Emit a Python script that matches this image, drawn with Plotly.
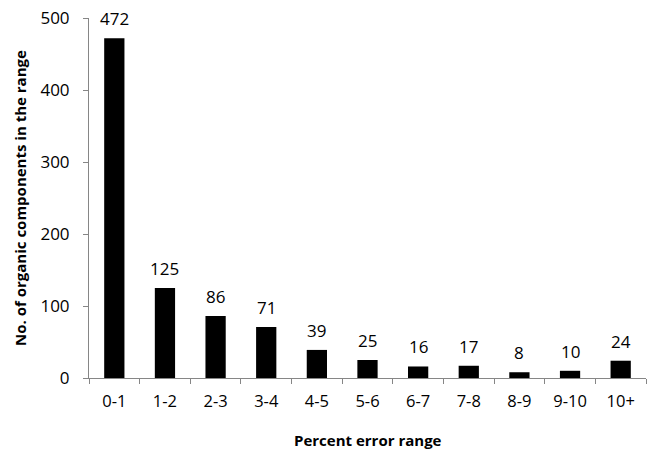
import plotly.graph_objects as go

categories = ["0-1", "1-2", "2-3", "3-4", "4-5", "5-6", "6-7", "7-8", "8-9", "9-10", "10+"]
counts = [472, 125, 86, 71, 39, 25, 16, 17, 8, 10, 24]
y_ticks = [0, 100, 200, 300, 400, 500]
x_title = "Percent error range"
y_title = "No. of organic components in the range"

font_family = "Open Sans, Liberation Sans, sans-serif"
axis_grey = "#868686"

fig = go.Figure(go.Bar(
    x=categories,
    y=counts,
    marker=dict(color="black", line=dict(width=0)),
    width=0.4,
    hoverinfo="x+y",
))

for c, v in zip(categories, counts):
    fig.add_annotation(
        x=c, y=v, text=str(v), showarrow=False,
        yanchor="bottom", yshift=6,
        font=dict(size=17, color="black", family=font_family),
    )

fig.add_annotation(
    xref="paper", yref="paper", x=0.501, y=-0.171,
    text=f"<b>{x_title}</b>", showarrow=False,
    xanchor="center", yanchor="middle",
    font=dict(size=15, color="black", family=font_family),
)
fig.add_annotation(
    xref="paper", yref="paper", x=-0.124, y=0.5,
    text=f"<b>{y_title}</b>", showarrow=False, textangle=-90,
    xanchor="center", yanchor="middle",
    font=dict(size=15, color="black", family=font_family),
)

fig.update_layout(
    width=648, height=445,
    margin=dict(l=81, r=10, t=10, b=74.5, autoexpand=False),
    plot_bgcolor="white", paper_bgcolor="white",
    showlegend=False,
    font=dict(family=font_family, size=15, color="black"),
    xaxis=dict(
        type="category", automargin=False,
        showline=True, linecolor=axis_grey, linewidth=1,
        ticks="outside", tickson="boundaries", tickcolor=axis_grey, ticklen=5,
        ticklabelstandoff=8, ticklabeloverflow="allow",
        showgrid=False, zeroline=False,
        tickfont=dict(size=16.5, color="black"),
    ),
    yaxis=dict(
        range=[0, 500], automargin=False,
        tickvals=y_ticks,
        showline=True, linecolor=axis_grey, linewidth=1,
        ticks="outside", tickcolor=axis_grey, ticklen=5,
        ticklabelstandoff=10, ticklabeloverflow="allow",
        showgrid=False, zeroline=False,
        tickfont=dict(size=17, color="black"),
    ),
)

fig.write_html("out.html")
